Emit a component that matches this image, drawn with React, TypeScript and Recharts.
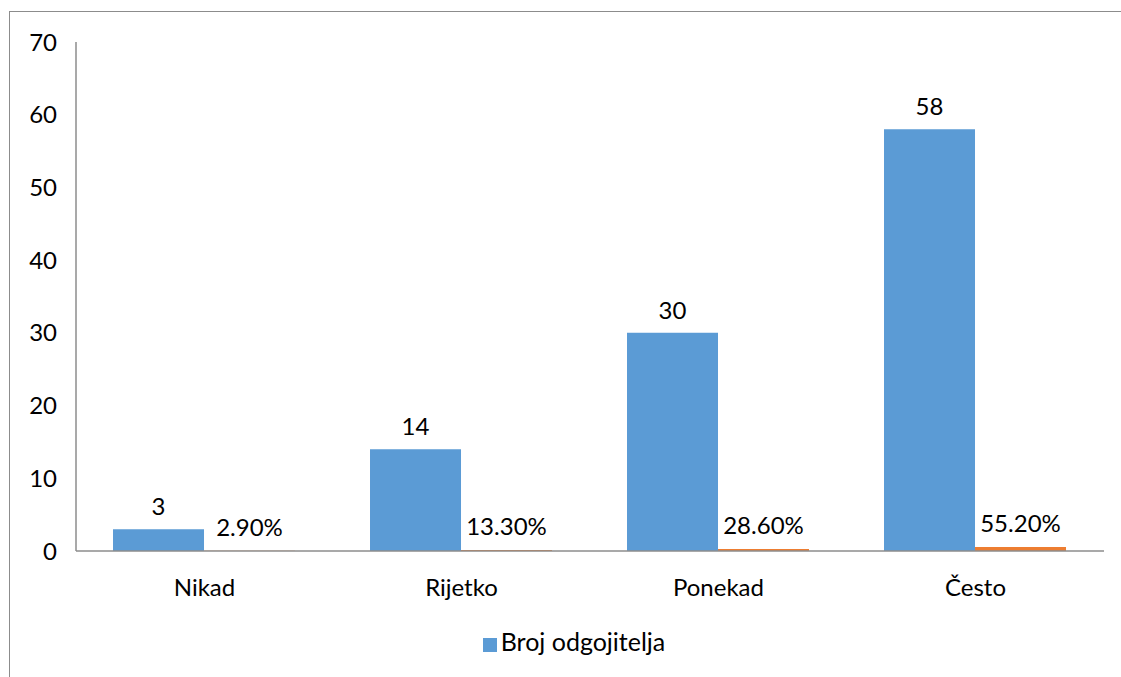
import { BarChart, Bar, XAxis, YAxis, Legend, LabelList } from 'recharts';

const categories = ['Nikad', 'Rijetko', 'Ponekad', 'Često'];
const brojOdgojitelja = [3, 14, 30, 58];
const postotak = [0.029, 0.133, 0.286, 0.552];
const postotakLabels = ['2.90%', '13.30%', '28.60%', '55.20%'];
const yTicks = [0, 10, 20, 30, 40, 50, 60, 70];

const data = categories.map((name, i) => ({
  name,
  broj: brojOdgojitelja[i],
  postotak: postotak[i],
  postotakLabel: postotakLabels[i],
}));

const font = 'Lato, "Open Sans", sans-serif';
const textStyle = { fontSize: 24, fill: '#000', fontFamily: font };

export default function App() {
  return (
    <div style={{ position: 'fixed', left: 0, top: 0, width: 1121, height: 677, background: '#fff', overflow: 'hidden', fontFamily: font }}>
      <div
        style={{
          position: 'absolute', left: 9, top: 11, width: 1200, height: 800,
          borderLeft: '1.5px solid #8c8c8c', borderTop: '1.5px solid #8c8c8c',
        }}
      />
      <div style={{ position: 'absolute', left: 0, top: 0 }}>
        <BarChart
          width={1121}
          height={677}
          data={data}
          margin={{ top: 42, right: 17, bottom: 0, left: 0 }}
          barCategoryGap="14.4%"
          barGap={0}
        >
          <XAxis
            dataKey="name"
            tickLine={false}
            axisLine={{ stroke: '#8c8c8c', strokeWidth: 1.5 }}
            tick={textStyle}
            tickMargin={22}
            height={100}
          />
          <YAxis
            domain={[0, 70]}
            ticks={yTicks}
            interval={0}
            tickLine={false}
            axisLine={{ stroke: '#8c8c8c', strokeWidth: 1.5 }}
            tick={textStyle}
            tickMargin={13}
            width={76}
          />
          <Legend
            verticalAlign="bottom"
            align="center"
            iconType="square"
            iconSize={14}
            height={26}
            wrapperStyle={{ bottom: 25, left: 27, fontSize: 25, fontFamily: font }}
            formatter={(v) => <span style={{ color: '#000' }}>{v}</span>}
          />
          <Bar dataKey="broj" name="Broj odgojitelja" fill="#5B9BD5" isAnimationActive={false}>
            <LabelList dataKey="broj" position="top" offset={14} style={textStyle} />
          </Bar>
          <Bar dataKey="postotak" name="Postotak" fill="#ED7D31" legendType="none" isAnimationActive={false}>
            <LabelList dataKey="postotakLabel" position="top" offset={15} style={textStyle} />
          </Bar>
        </BarChart>
      </div>
    </div>
  );
}
